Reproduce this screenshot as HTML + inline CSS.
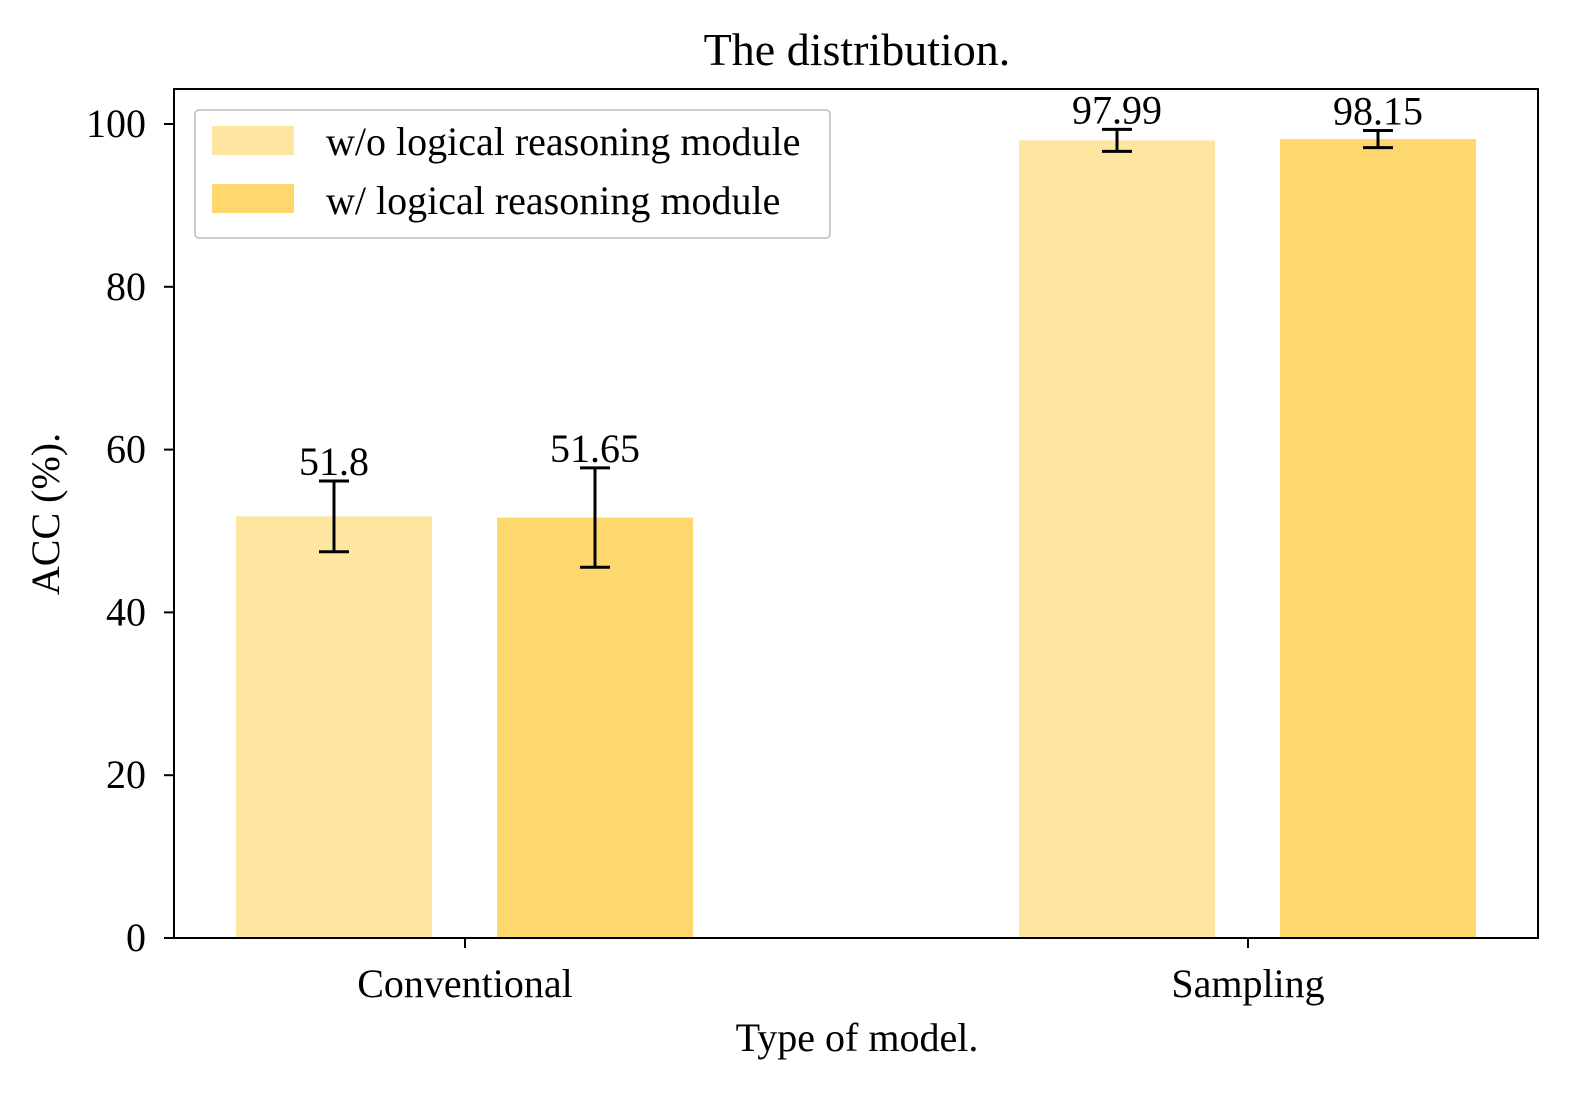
<!DOCTYPE html>
<html><head><meta charset="utf-8"><style>
body{margin:0;background:#fff}
svg{display:block;font-family:"Liberation Serif",serif}
</style></head><body>
<svg id="chart" width="1586" height="1101">
<rect width="1586" height="1101" fill="#fff"/>
<text x="857" y="65" font-size="46" text-anchor="middle">The distribution.</text>
<text x="857" y="1051" font-size="40" text-anchor="middle">Type of model.</text>
<text transform="translate(59,514) rotate(-90)" font-size="40" text-anchor="middle">ACC (%).</text>
<g id="bars"></g>
<g id="axes"></g>
<g>
<rect x="195" y="110" width="635" height="128" rx="4" fill="#fff" stroke="#ccc" stroke-width="2"/>
<rect x="212" y="126" width="82" height="29" fill="#fee6a0"/>
<text x="326" y="155" font-size="40">w/o logical reasoning module</text>
<rect x="212" y="184" width="82" height="29" fill="#fed86f"/>
<text x="326" y="214" font-size="40">w/ logical reasoning module</text>
</g>
</svg>
<script>
const categories=["Conventional","Sampling"];
const seriesWithout=[51.8,97.99];
const seriesWith=[51.65,98.15];
const errWithout=[4.35,1.35];
const errWith=[6.1,1.05];
const yTicks=[0,20,40,60,80,100];
const NS="http://www.w3.org/2000/svg";
const L=174,R=1538,T=89,B=938;
const y=v=>B-v*8.14;
const xc=i=>465+i*783;
function mk(tag,attrs,parent){const e=document.createElementNS(NS,tag);for(const k in attrs)e.setAttribute(k,attrs[k]);parent.appendChild(e);return e;}
const bars=document.getElementById('bars'),axes=document.getElementById('axes');
const series=[[seriesWithout,errWithout,"#fee6a0",-131,"without"],[seriesWith,errWith,"#fed86f",130,"with"]];
categories.forEach((c,i)=>{
 series.forEach(([vals,errs,col,off,nm])=>{
  const cx=xc(i)+off,v=vals[i],e=errs[i];
  const r=mk('rect',{x:cx-98,y:y(v),width:196,height:B-y(v),fill:col},bars);
  
  
  const g=mk('g',{stroke:'#000','stroke-width':3},bars);
  
  
  mk('line',{x1:cx,x2:cx,y1:y(v+e),y2:y(v-e)},g);
  mk('line',{x1:cx-15,x2:cx+15,y1:y(v+e),y2:y(v+e)},g);
  mk('line',{x1:cx-15,x2:cx+15,y1:y(v-e),y2:y(v-e)},g);
  const t=mk('text',{x:cx,y:y(v+e)-6,'font-size':40,'text-anchor':'middle'},bars);
  t.textContent=String(v);
  
  
 });
 mk('line',{x1:xc(i),x2:xc(i),y1:B,y2:B+10,stroke:'#000','stroke-width':2},axes);
 const t=mk('text',{x:xc(i),y:997,'font-size':40,'text-anchor':'middle'},axes);
 t.textContent=c;
 
 
});
yTicks.forEach(v=>{
 mk('line',{x1:L-10,x2:L,y1:y(v),y2:y(v),stroke:'#000','stroke-width':2},axes);
 const t=mk('text',{x:L-28,y:y(v)+13,'font-size':40,'text-anchor':'end'},axes);
 t.textContent=v;
 
 
});
const f=mk('rect',{x:L,y:T,width:R-L,height:B-T,fill:'none',stroke:'#000','stroke-width':2},axes);


</script>
</body></html>
